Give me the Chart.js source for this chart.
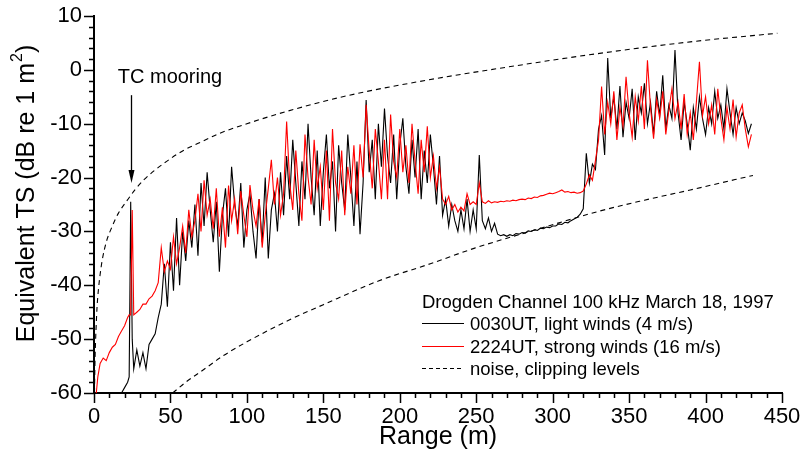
<!DOCTYPE html>
<html>
<head>
<meta charset="utf-8">
<script src="https://cdn.jsdelivr.net/npm/chart.js@4.4.0/dist/chart.umd.min.js"></script>
<style>
  html, body { margin: 0; padding: 0; background: #fff; }
  #wrap { width: 800px; height: 453px; }
</style>
</head>
<body>
<div id="wrap"><canvas id="chart" width="800" height="453"></canvas></div>
<script>
// range samples (m), shared by both echo traces
const rangeM = [
  1.5, 2.5, 4, 6, 8, 10, 12, 14, 16, 18, 20, 22, 23, 24, 25, 26,
  28, 30, 32, 34, 36, 38, 40, 42, 44, 46, 48, 50, 52, 54, 56, 58, 60, 62, 64, 66,
  68, 70, 72, 74, 76, 78, 80, 82, 84, 86, 88, 90, 92, 94, 96, 98, 100, 102, 104, 106,
  108, 110, 112, 114, 116, 118, 120, 122, 124, 126, 128, 130, 132, 134, 136, 138, 140, 142, 144, 146,
  148, 150, 152, 154, 156, 158, 160, 162, 164, 166, 168, 170, 172, 174, 176, 178, 180, 182, 184, 186,
  188, 190, 192, 194, 196, 198, 200, 202, 204, 206, 208, 210, 212, 214, 216, 218, 220, 222, 224, 226,
  228, 230, 232, 234, 236, 238, 240, 242, 244, 246, 248, 250, 252, 254, 256, 258, 260, 262, 264, 266,
  268, 270, 272, 274, 276, 278, 280, 282, 284, 286, 288, 290, 292, 294, 296, 298, 300, 302, 304, 306,
  308, 310, 312, 314, 316, 318, 320, 322, 324, 326, 328, 330, 332, 334, 336, 338, 340, 342, 344, 346,
  348, 350, 352, 354, 356, 358, 360, 362, 364, 366, 368, 370, 372, 374, 376, 378, 380, 382, 384, 386,
  388, 390, 392, 394, 396, 398, 400, 402, 404, 406, 408, 410, 412, 414, 416, 418, 420, 422, 424, 426,
  428, 430
];

// 0030UT, light winds (4 m/s)
const tsLight = [
  null, null, null, null, null, null, null, null, null, -60, -59, -58, -57, -24.5, -50, -55.5,
  -52, -55, -52.5, -55.5, -51, -50, -49, -46, -43.5, -36, -44, -32, -41, -27.5, -40, -30, -35.5, -28, -33, -25,
  -34.5, -21, -29, -19, -26, -32, -24.5, -37.5, -27, -22, -31, -18, -25, -29, -21, -33, -26, -23, -30, -35,
  -24, -32, -20, -35, -26, -23, -30, -19, -27, -16, -24, -13, -21, -29, -17, -24, -10, -20, -27, -15,
  -29, -19, -12, -22, -17, -30, -14, -21, -26, -12, -20, -29, -17, -30.5, -21, -5.6, -19, -13, -24, -10,
  -18, -7.2, -16, -21, -12, -24, -14, -9, -18, -23, -13, -20, -11, -24, -15, -21, -12, -18, -25, -16,
  -27, -24, -29, -25, -28, -30, -26, -29.5, -24, -30, -26, -29.5, -15.8, -28, -29.5, -27.5, -30, -28.5, -30.5, -30.8,
  -30.6, -30.9, -30.6, -30.8, -30.4, -30.5, -30.2, -30.3, -29.9, -30, -29.7, -29.8, -29.4, -29.5, -29.2, -29.3, -29, -29, -28.6, -28.7,
  -28.3, -28.4, -28, -27.7, -27.4, -26.8, -25.8, -15.5, -21, -17.5, -18.5, -11, -8.5, -15.8, 2.2, -9, -5, -11, -3, -12.5,
  -6, -9, -3.5, -13, -5, -8, -2.5, -10, -6, -12, -4, -8.5, -1, -11, -6.5, -9, 3.7, -8, -13, -6,
  -10, -14.9, -7, -11, -5, -9, -12, -7, -10, -4, -9, -6.5, -11, -3.5, -8, -12, -7, -10, -8, -9.5,
  -11.8, -10
];

// 2224UT, strong winds (16 m/s)
const tsStrong = [
  -60, -57, -54.5, -53.5, -54, -52.5, -51.5, -51, -49.5, -48.5, -47.5, -46, -45.5, -45.5, -26, -45.5,
  -45, -44.5, -43.5, -43.5, -42.5, -42, -41, -39.5, -33, -37.5, -35.5, -37, -31, -36, -33, -29, -34, -26, -31, -28,
  -23, -30, -20.5, -27, -24, -29.5, -22, -31, -25.5, -33, -21.5, -28, -24, -30.5, -22.5, -27, -31, -21.4, -26, -29,
  -24, -33, -27, -22, -16.7, -25, -20, -27, -23, -9.6, -21, -26, -15, -23, -28, -12, -20, -25, -13, -22,
  -18, -26, -15, -28, -11, -21, -24, -15, -27, -18, -23, -14, -25, -13.8, -20, -6.5, -15, -22, -11, -17,
  -24, -13, -24, -8.3, -17, -20, -11, -19, -14, -21, -10, -17, -23, -13, -19, -10.5, -20, -16, -22, -18,
  -24, -25, -23.5, -26, -25, -26.4, -25.5, -26.2, -23, -25, -24.5, -25, -21, -24.5, -24.8, -24.3, -24.7, -24.5, -24.6, -24.4,
  -24.5, -24.3, -24.4, -24.2, -24.3, -24.1, -24, -24.1, -23.8, -23.9, -23.6, -23.7, -23.4, -23.3, -23.1, -22.9, -23, -22.8, -22.6, -22.3,
  -22.7, -22.6, -22.8, -22.7, -22.9, -22.8, -22.5, -21.2, -19.5, -20.5, -16.8, -13, -3.1, -12, -6, -10, -4, -13, -7, -10.5,
  -1.3, -8, -12.5, -5, -9.5, -3, -11, 1.8, -7, -12.8, -5.5, -9, -4, -12, -7.5, -3.5, -9, -6, -11, -4.5,
  -12, -8, -13, -6, 1.5, -8.5, -5, -10, -6.5, -12, -3.5, -9, -13, -7, -11, -5.5, -12.5, -8, -6.5, -11,
  -14.3, -12
];

// clipping level (upper dashed) and noise level (lower dashed)
const clipRange = [0.3, 0.5, 0.7, 1, 1.5, 2, 3, 4, 5.4, 8, 12, 16, 21.8, 27, 32.7, 45, 58.9, 70, 82, 100, 125, 164, 218, 270, 324, 390, 447];
const clipTS = [-60, -56.5, -53.5, -50.5, -47, -44, -40.5, -38, -35.3, -32, -29, -26.6, -24.2, -22.2, -20.4, -17.5, -14.9, -13.4, -11.8, -10, -7.8, -4.9, -1.9, 0.5, 2.8, 5.2, 6.8];
const noiseRange = [51.5, 60, 70, 85, 100, 128, 150, 186, 220, 249, 290, 331, 360, 390, 431];
const noiseTS = [-60, -58, -56, -53, -50.5, -46.4, -43.6, -39.2, -36, -33.1, -29.6, -26.2, -24.2, -22.3, -19.6];

const xTicks = [0, 50, 100, 150, 200, 250, 300, 350, 400, 450];
const yTicks = [-60, -50, -40, -30, -20, -10, 0, 10];
const xMinorStep = 10;
const yMinorStep = 2;

const legendTitle = 'Drogden Channel 100 kHz March 18, 1997';
const legendLabels = ['0030UT, light winds (4 m/s)', '2224UT, strong winds (16 m/s)', 'noise, clipping levels'];
const mooringLabel = 'TC mooring';
const mooringAt = 24;        // m
const mooringArrow = [-4.7, -21]; // dB, tail -> tip
const mooringText = [49.7, -2.4];

const FONT = '"Liberation Sans", Arial, Helvetica, sans-serif';

const toPoints = (xs, ys) => xs.map((x, i) => ({ x: x, y: ys[i] })).filter(p => p.y !== null);

const extras = {
  id: 'extras',
  afterDraw(chart) {
    const ctx = chart.ctx;
    const xs = chart.scales.x, ys = chart.scales.y;
    const area = chart.chartArea;
    ctx.save();
    ctx.strokeStyle = '#000';
    ctx.fillStyle = '#000';
    ctx.lineWidth = 1.5;

    // tick marks, outward
    ctx.beginPath();
    for (let v = 0; v <= 450; v += xMinorStep) {
      const px = Math.round(xs.getPixelForValue(v)) + 0.5;
      const len = xTicks.includes(v) ? 10 : 5;
      ctx.moveTo(px, area.bottom);
      ctx.lineTo(px, area.bottom + len);
    }
    for (let v = -60; v <= 10; v += yMinorStep) {
      const py = Math.round(ys.getPixelForValue(v)) + 0.5;
      const len = yTicks.includes(v) ? 10 : 5;
      ctx.moveTo(area.left, py);
      ctx.lineTo(area.left - len, py);
    }
    ctx.stroke();

    // y axis title with superscript
    ctx.save();
    ctx.translate(27, 194);
    ctx.rotate(-Math.PI / 2);
    const bigFont = '25px ' + FONT, supFont = '16px ' + FONT;
    const partA = 'Equivalent TS (dB re 1 m', partB = '2', partC = ')';
    ctx.font = bigFont;
    const wA = ctx.measureText(partA).width, wC = ctx.measureText(partC).width;
    ctx.font = supFont;
    const wB = ctx.measureText(partB).width;
    let tx = -(wA + wB + wC) / 2;
    ctx.textBaseline = 'middle';
    ctx.textAlign = 'left';
    ctx.font = bigFont;
    ctx.fillText(partA, tx, 0);
    tx += wA;
    ctx.font = supFont;
    ctx.fillText(partB, tx + 1, -9);
    tx += wB + 1;
    ctx.font = bigFont;
    ctx.fillText(partC, tx, 0);
    ctx.restore();

    // TC mooring annotation
    const ax = Math.round(xs.getPixelForValue(mooringAt)) + 0.5;
    const ay0 = ys.getPixelForValue(mooringArrow[0]);
    const ay1 = ys.getPixelForValue(mooringArrow[1]);
    ctx.lineWidth = 1.3;
    ctx.beginPath();
    ctx.moveTo(ax, ay0);
    ctx.lineTo(ax, ay1 - 10);
    ctx.stroke();
    ctx.beginPath();
    ctx.moveTo(ax - 3, ay1 - 13);
    ctx.lineTo(ax + 3, ay1 - 13);
    ctx.lineTo(ax, ay1);
    ctx.closePath();
    ctx.fill();
    ctx.font = '20px ' + FONT;
    ctx.textAlign = 'center';
    ctx.textBaseline = 'alphabetic';
    ctx.fillText(mooringLabel, xs.getPixelForValue(mooringText[0]), ys.getPixelForValue(mooringText[1]));

    // legend box (inside plot, lower right)
    const lx = 422, ly = 308, step = 22.4;
    ctx.font = '18.5px ' + FONT;
    ctx.textAlign = 'left';
    ctx.fillText(legendTitle, lx, ly);
    const styles = [
      { color: '#000', dash: [] },
      { color: '#ff0000', dash: [] },
      { color: '#000', dash: [4, 3] }
    ];
    legendLabels.forEach((label, i) => {
      const by = ly + step * (i + 1);
      const sy = Math.round(by - 7) + 0.5;
      ctx.strokeStyle = styles[i].color;
      ctx.setLineDash(styles[i].dash);
      ctx.lineWidth = 1;
      ctx.beginPath();
      ctx.moveTo(lx, sy);
      ctx.lineTo(lx + 42, sy);
      ctx.stroke();
      ctx.setLineDash([]);
      ctx.fillStyle = '#000';
      ctx.fillText(label, lx + 48, by);
    });
    ctx.restore();
  }
};

new Chart(document.getElementById('chart'), {
  type: 'line',
  data: {
    datasets: [
      {
        label: legendLabels[1],
        data: toPoints(rangeM, tsStrong),
        borderColor: '#ff0000',
        borderWidth: 1.1,
        pointRadius: 0,
        tension: 0
      },
      {
        label: legendLabels[0],
        data: toPoints(rangeM, tsLight),
        borderColor: '#000000',
        borderWidth: 1.1,
        pointRadius: 0,
        tension: 0
      },
      {
        label: 'clipping',
        data: toPoints(clipRange, clipTS),
        borderColor: '#000000',
        borderWidth: 1.1,
        borderDash: [5, 4],
        pointRadius: 0,
        cubicInterpolationMode: 'monotone'
      },
      {
        label: 'noise',
        data: toPoints(noiseRange, noiseTS),
        borderColor: '#000000',
        borderWidth: 1.1,
        borderDash: [5, 4],
        pointRadius: 0,
        cubicInterpolationMode: 'monotone'
      }
    ]
  },
  options: {
    responsive: false,
    animation: false,
    layout: { padding: { left: 0, right: 18, top: 16, bottom: 0 } },
    plugins: {
      legend: { display: false },
      tooltip: { enabled: false }
    },
    scales: {
      x: {
        type: 'linear',
        min: 0,
        max: 450,
        afterBuildTicks: (s) => { s.ticks = xTicks.map(v => ({ value: v })); },
        afterFit: (s) => { s.height = 60; s.paddingLeft = 0; s.paddingRight = 0; },
        grid: { display: false, drawTicks: false },
        border: { display: true, color: '#000', width: 2 },
        ticks: { color: '#000', padding: 11, maxRotation: 0, font: { family: FONT, size: 22 } },
        title: { display: true, text: 'Range (m)', color: '#000', padding: { top: 0, bottom: 1 }, font: { family: FONT, size: 25 } }
      },
      y: {
        min: -60,
        max: 10,
        afterBuildTicks: (s) => { s.ticks = yTicks.map(v => ({ value: v })); },
        afterFit: (s) => { s.width = 94; s.paddingTop = 0; s.paddingBottom = 0; },
        grid: { display: false, drawTicks: false },
        border: { display: true, color: '#000', width: 2 },
        ticks: { color: '#000', padding: 12, font: { family: FONT, size: 22 } },
        title: { display: false }
      }
    }
  },
  plugins: [extras]
});
</script>
</body>
</html>
